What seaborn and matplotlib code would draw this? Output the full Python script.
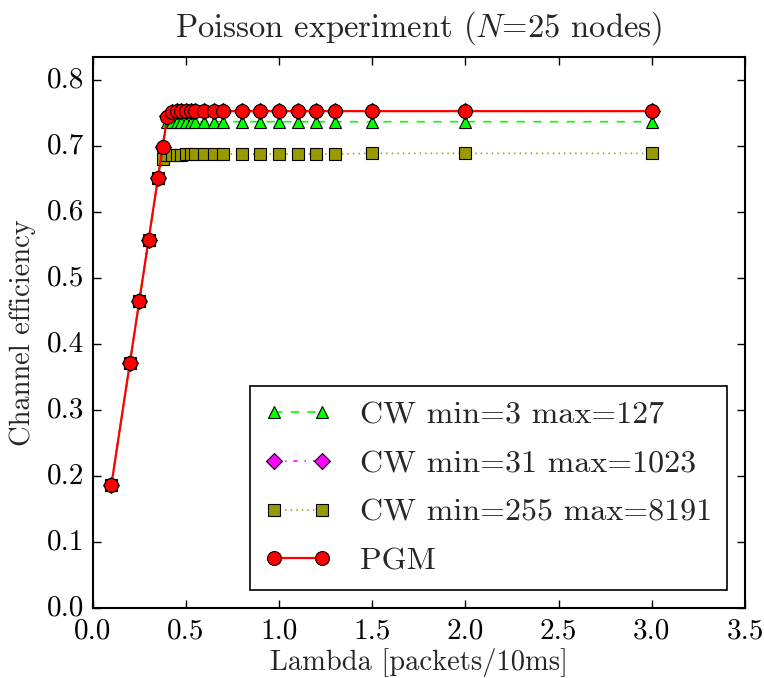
import matplotlib
matplotlib.use("Agg")
import matplotlib.pyplot as plt
import seaborn as sns
import numpy as np

lam = [0.1, 0.2, 0.25, 0.3, 0.35, 0.375, 0.4, 0.425, 0.45, 0.475, 0.5, 0.525, 0.55,
       0.6, 0.65, 0.7, 0.8, 0.9, 1.0, 1.1, 1.2, 1.3, 1.5, 2.0, 3.0]
cw_3_127 = [0.186, 0.372, 0.465, 0.558, 0.651, 0.698, 0.736, 0.737, 0.737, 0.737, 0.737, 0.737, 0.737,
            0.737, 0.737, 0.737, 0.737, 0.737, 0.737, 0.737, 0.737, 0.737, 0.737, 0.737, 0.737]
cw_31_1023 = [0.186, 0.372, 0.465, 0.558, 0.651, 0.698, 0.745, 0.752, 0.753, 0.753, 0.753, 0.753, 0.753,
              0.753, 0.753, 0.753, 0.753, 0.753, 0.753, 0.753, 0.753, 0.753, 0.753, 0.753, 0.753]
cw_255_8191 = [0.186, 0.372, 0.465, 0.558, 0.651, 0.681, 0.686, 0.687, 0.687, 0.687, 0.688, 0.688, 0.688,
               0.688, 0.688, 0.688, 0.688, 0.688, 0.688, 0.688, 0.688, 0.688, 0.689, 0.689, 0.689]
pgm = [0.186, 0.372, 0.465, 0.558, 0.651, 0.698, 0.744, 0.752, 0.753, 0.753, 0.753, 0.753, 0.753,
       0.753, 0.753, 0.753, 0.753, 0.753, 0.753, 0.753, 0.753, 0.753, 0.753, 0.753, 0.753]

labels = ["CW min=3 max=127", "CW min=31 max=1023", "CW min=255 max=8191", "PGM"]
series = [cw_3_127, cw_31_1023, cw_255_8191, pgm]
colors = ["#00ff00", "#ff00ff", "#999900", "#ff0000"]
markers = ["^", "D", "s", "o"]
styles = ["--", "-.", ":", "-"]
msizes = [9, 8, 9, 10]
lws = [1.2, 1.2, 1.2, 1.6]

plt.style.use("classic")
sns.set_style("ticks", {"xtick.direction": "in", "ytick.direction": "in"})
plt.rcParams.update({
    "font.family": "serif",
    "font.serif": ["cmr10"],
    "mathtext.fontset": "cm",
    "axes.formatter.use_mathtext": True,
    "axes.unicode_minus": False,
    "figure.facecolor": "white",
    "savefig.facecolor": "white",
    "axes.edgecolor": "black",
    "axes.linewidth": 1.5,
    "xtick.top": True, "ytick.right": True,
    "xtick.direction": "in", "ytick.direction": "in",
    "xtick.major.size": 5.5, "ytick.major.size": 5.5,
    "xtick.major.width": 1.0, "ytick.major.width": 1.0,
    "xtick.color": "black", "ytick.color": "black",
})

fig = plt.figure(figsize=(7.64, 6.78), dpi=100)
ax = fig.add_axes([0.1213, 0.1032, 0.8538, 0.8127])

for y, lab, c, m, ls, ms, lw in zip(series, labels, colors, markers, styles, msizes, lws):
    sns.lineplot(x=lam, y=y, ax=ax, color=c, marker=m, linestyle=ls, markersize=ms,
                 markeredgecolor="black", markeredgewidth=0.8, linewidth=lw, label=lab)

ax.set_xlim(0, 3.5)
ax.set_ylim(0, 0.835)
ax.set_xticks(np.arange(0, 3.51, 0.5))
ax.set_yticks(np.arange(0, 0.81, 0.1))
ax.xaxis.set_major_formatter(matplotlib.ticker.FormatStrFormatter("%.1f"))
ax.yaxis.set_major_formatter(matplotlib.ticker.FormatStrFormatter("%.1f"))
ax.tick_params(axis="x", labelsize=21, pad=7)
ax.tick_params(axis="y", labelsize=21, pad=6)
ax.set_title("Poisson experiment ($N$=25 nodes)", fontsize=23.5, pad=15)
ax.set_xlabel("Lambda [packets/10ms]", fontsize=20.5, labelpad=3)
ax.set_ylabel("Channel efficiency", fontsize=20.5, labelpad=8)

leg = ax.legend(loc="lower right", bbox_to_anchor=(0.9724, 0.0327), borderaxespad=0,
                fontsize=23, numpoints=2, handlelength=2.1, handletextpad=0.9,
                labelspacing=0.64, borderpad=0.45, fancybox=False,
                frameon=True, framealpha=1)
leg.get_frame().set_edgecolor("black")
leg.get_frame().set_linewidth(1.2)

fig.savefig("out.png", dpi=100)
